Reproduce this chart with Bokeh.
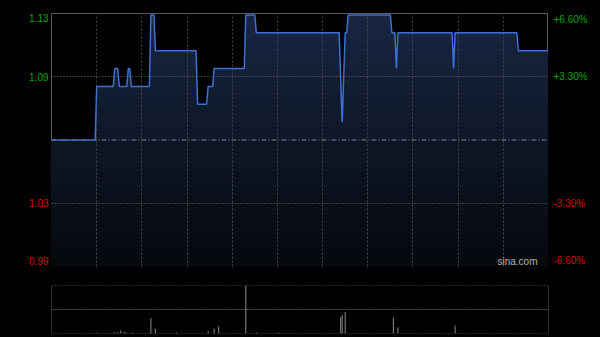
import numpy as np
from bokeh.plotting import figure
from bokeh.layouts import column, row
from bokeh.models import Range1d, Grid, FixedTicker, Span, Label
from bokeh.core.properties import value
from bokeh.embed import file_html
from bokeh.resources import INLINE

# ---------------- data ----------------
prev_close = 1.06
half_range = 0.0708          # price half-range shown around the previous close
session_minutes = 330        # 09:30-12:00 + 13:00-16:00

# trading minute since 09:30 (lunch break removed) and last price at breakpoints
price_t = [0, 29, 30, 41, 42, 44, 45, 50, 51, 52, 53,
           65, 66, 68, 69,
           96, 97, 103, 104, 107, 108,
           128, 129, 135, 136,
           191, 193, 195, 196, 197,
           225, 226, 228, 229, 230,
           266, 267, 268,
           309, 310, 330]
price_v = [1.06, 1.06, 1.09, 1.09, 1.10, 1.10, 1.09, 1.09, 1.10, 1.10, 1.09,
           1.09, 1.13, 1.13, 1.11,
           1.11, 1.08, 1.08, 1.09, 1.09, 1.10,
           1.10, 1.13, 1.13, 1.12,
           1.12, 1.07, 1.12, 1.12, 1.13,
           1.13, 1.12, 1.12, 1.10, 1.12,
           1.12, 1.10, 1.12,
           1.12, 1.11, 1.11]

# volume (thousand shares) per trading minute
vol_t = [30, 39, 42, 44, 46, 48, 49, 54, 66, 69, 83, 104, 108, 111, 129, 136, 151,
         192, 193, 195, 227, 230, 268]
vol_v = [8, 6, 15, 12, 30, 10, 15, 10, 150, 47, 10, 25, 50, 70, 470, 10, 10,
         160, 180, 210, 157, 60, 80]

left_labels = ["1.13", "1.09", "1.03", "0.99"]
right_labels = ["+6.60%", "+3.30%", "-3.30%", "-6.60%"]

# ---------------- style ----------------
GREEN = "#00a800"
RED = "#dd0000"
LINE = "#3d70d0"
FONT = "Liberation Sans"

lo = prev_close - half_range
hi = prev_close + half_range
label_levels = [hi, prev_close + half_range / 2, prev_close - half_range / 2, lo]
baselines = ["top", "middle", "middle", "middle"]
nudges = [0, 0, 0, -6]
label_colors = [GREEN, GREEN, RED, RED]

yr = Range1d(lo, hi)
xr = Range1d(0, session_minutes)


def bare(fig):
    fig.background_fill_color = "black"
    fig.border_fill_color = "black"
    for g in list(fig.center):
        if isinstance(g, Grid):
            g.visible = False


p = figure(width=497, height=276, x_range=xr, y_range=yr,
           output_backend="svg", toolbar_location=None,
           x_axis_location=None, y_axis_location=None,
           min_border_left=0, min_border_right=0, min_border_top=13,
           min_border_bottom=10)
bare(p)
p.outline_line_color = "#5a5a5a"
p.outline_line_width = 1

# gradient area under the price line (layered bands)
pv = np.array(price_v, dtype=float)
top_rgb = np.array([24, 38, 66], dtype=float)
bot_rgb = np.array([5, 7, 11], dtype=float)
N = 40
for k in range(N):
    cap = hi - (hi - lo) * k / N
    frac = (cap - lo) / (hi - lo)
    c = bot_rgb + (top_rgb - bot_rgb) * frac
    col = "#%02x%02x%02x" % tuple(int(round(v)) for v in c)
    p.varea(x=price_t, y1=lo, y2=np.minimum(pv, cap), fill_color=col)

vgrid = Grid(dimension=0, ticker=FixedTicker(ticks=list(range(30, session_minutes, 30))),
             grid_line_color="#444444", grid_line_dash="2 2", grid_line_width=1,
             level="guide")
hgrid = Grid(dimension=1, ticker=FixedTicker(ticks=[label_levels[1], label_levels[2]]),
             grid_line_color="#6a6a6a", grid_line_dash="1 2", grid_line_width=1,
             level="guide")
p.add_layout(vgrid)
p.add_layout(hgrid)
p.add_layout(Span(location=prev_close, dimension="width", line_color="#7d8590",
                  line_dash="5 2 1 2", line_width=1))

p.line(price_t, price_v, line_color=LINE, line_width=1.5, level="overlay")

p.add_layout(Label(x=session_minutes, y=lo, x_offset=-11, y_offset=0, text="sina.com",
                   text_align="right", text_baseline="bottom", text_font=FONT,
                   text_font_size="10px", text_color="#b4b4b4"))

# ---------------- label gutters (share the price scale) ----------------
lf = figure(width=51, height=276, x_range=Range1d(0, 1), y_range=yr,
            output_backend="svg", toolbar_location=None,
            x_axis_location=None, y_axis_location=None,
            min_border_left=0, min_border_right=0, min_border_top=13,
            min_border_bottom=10)
bare(lf)
lf.outline_line_color = None
rf = figure(width=52, height=276, x_range=Range1d(0, 1), y_range=yr,
            output_backend="svg", toolbar_location=None,
            x_axis_location=None, y_axis_location=None,
            min_border_left=0, min_border_right=0, min_border_top=13,
            min_border_bottom=10)
bare(rf)
rf.outline_line_color = None

for txt, lvl, bl, ny, colr in zip(left_labels, label_levels, baselines, nudges, label_colors):
    lf.text(x=[1], y=[lvl], text=[txt], x_offset=-3, y_offset=ny, text_align="right",
            text_baseline=bl, text_font=value(FONT), text_font_size=value("10px"),
            text_color=colr)
for txt, lvl, bl, ny, colr in zip(right_labels, label_levels, baselines, nudges, label_colors):
    rf.text(x=[0], y=[lvl], text=[txt], x_offset=5, y_offset=ny, text_align="left",
            text_baseline=bl, text_font=value(FONT), text_font_size=value("10px"),
            text_color=colr)

# ---------------- volume panel ----------------
vmax = max(vol_v)
p2 = figure(width=600, height=61, x_range=xr, y_range=Range1d(0, vmax),
            output_backend="svg", toolbar_location=None,
            x_axis_location=None, y_axis_location=None,
            min_border_left=51, min_border_right=52, min_border_top=9,
            min_border_bottom=4)
bare(p2)
p2.outline_line_color = None
for loc in [0, vmax / 2, vmax]:
    p2.add_layout(Span(location=loc, dimension="width", line_color="#555555",
                       line_dash="2 1", line_width=1))
for loc in [0, session_minutes]:
    p2.add_layout(Span(location=loc, dimension="height", line_color="#5a5a5a",
                       line_width=1))
p2.segment(x0=vol_t, y0=0, x1=vol_t, y1=vol_v, line_color="#8a8a8a", line_width=1)

layout = column(row(lf, p, rf, spacing=0), p2, spacing=0)
layout.styles = {"background-color": "black"}
open("out.html", "w").write(file_html(layout, INLINE))
